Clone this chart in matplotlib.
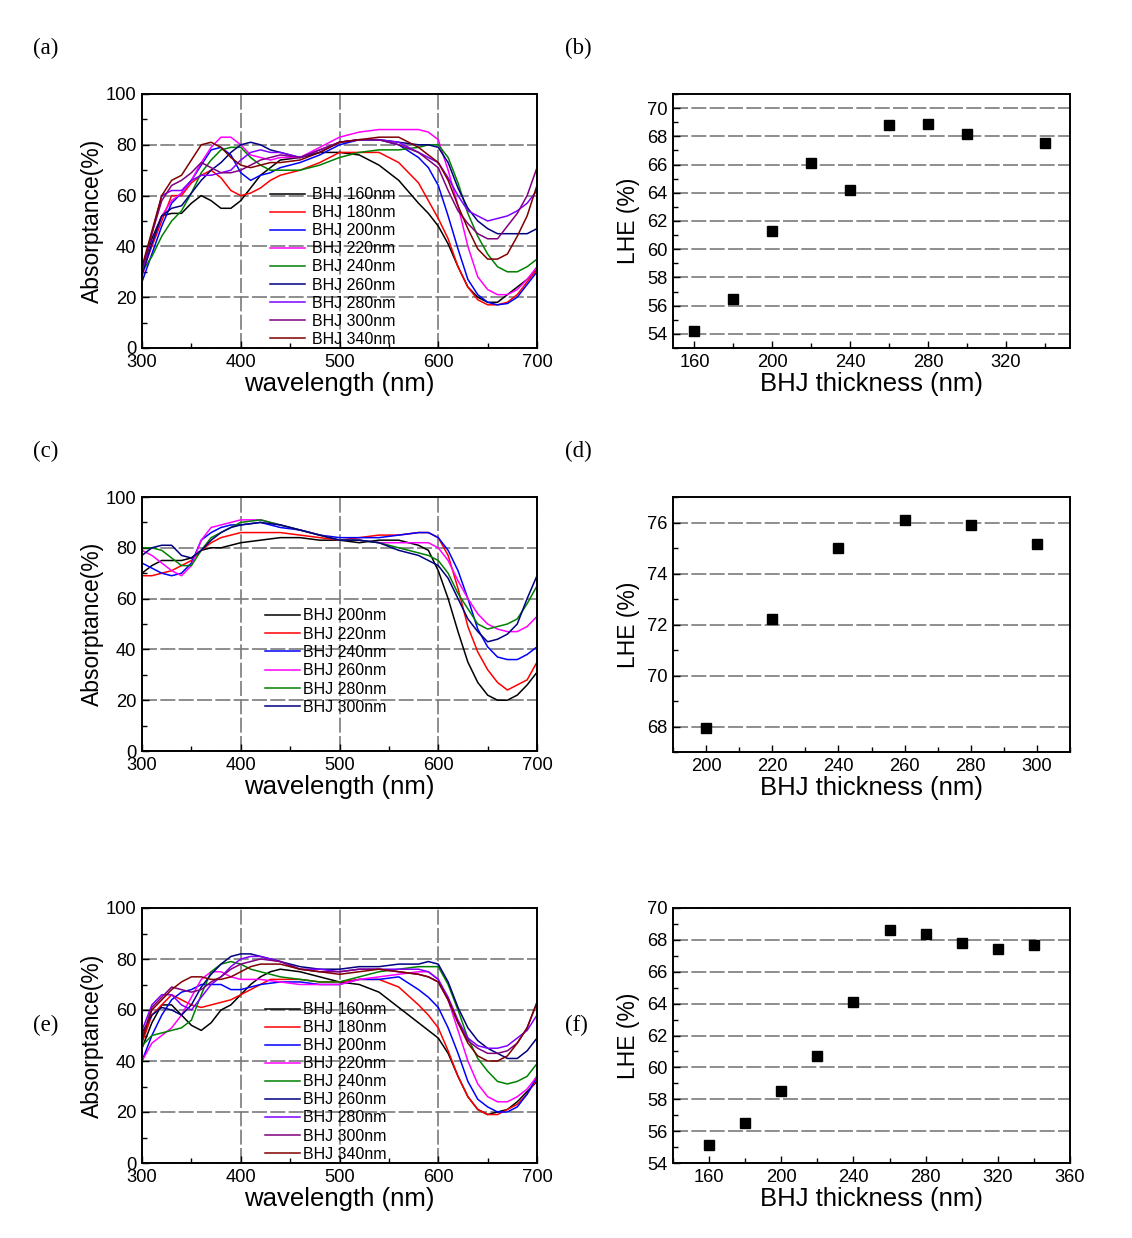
import matplotlib
matplotlib.use("Agg")
import matplotlib.pyplot as plt
from matplotlib.ticker import MultipleLocator

plt.rcParams['font.family'] = ['Liberation Sans', 'DejaVu Sans']

# ---------------- data ----------------
wavelength = [300, 310, 320, 330, 340, 350, 360, 370, 380, 390, 400, 410, 420, 430, 440,
              460, 480, 500, 520, 540, 560, 580, 590, 600,
              610, 620, 630, 640, 650, 660, 670, 680, 690, 700]

labels_a = ["BHJ 160nm", "BHJ 180nm", "BHJ 200nm", "BHJ 220nm", "BHJ 240nm",
            "BHJ 260nm", "BHJ 280nm", "BHJ 300nm", "BHJ 340nm"]
a_160 = [31, 43, 52, 53, 53, 57, 60, 58, 55, 55, 58, 63, 68, 71, 74, 75, 77, 77, 76, 72, 66, 57, 53, 48, 41, 32, 24, 20, 18, 18, 21, 24, 27, 31]
a_180 = [30, 40, 50, 60, 60, 65, 68, 70, 67, 62, 60, 61, 63, 66, 68, 70, 73, 77, 77, 77, 73, 65, 58, 51, 43, 32, 24, 19, 17, 17, 18, 21, 26, 31]
a_200 = [26, 37, 48, 57, 61, 66, 72, 78, 79, 76, 69, 66, 68, 69, 71, 73, 76, 80, 82, 82, 80, 75, 71, 64, 52, 39, 27, 21, 18, 17, 17.5, 20, 25, 30]
a_220 = [28, 41, 52, 58, 61, 66, 73, 79, 83, 83, 80, 76, 75, 74, 75, 75, 79, 83, 85, 86, 86, 86, 85, 82, 70, 56, 40, 28, 23, 21, 21, 23, 27, 32]
a_240 = [30, 36, 44, 50, 54, 61, 69, 74, 78, 79, 79, 75, 72, 70, 70, 70, 72, 75, 77, 78, 78, 79, 80, 80, 75, 65, 53, 44, 37, 32, 30, 30, 32, 35]
a_260 = [29, 41, 52, 55, 56, 61, 66, 70, 73, 77, 80, 81, 80, 78, 77, 75, 77, 81, 82, 82, 81, 80, 80, 79, 73, 63, 55, 50, 47, 45, 45, 45, 45, 47]
a_280 = [30, 45, 60, 62, 62, 66, 68, 68, 69, 70, 74, 77, 78, 77, 77, 75, 78, 81, 82, 82, 81, 77, 75, 73, 67, 60, 54, 52, 50, 51, 52, 54, 57, 62]
a_300 = [31, 45, 58, 64, 66, 69, 73, 71, 69, 69, 70, 72, 74, 75, 76, 75, 78, 81, 82, 82, 80, 77, 74, 71, 62, 54, 49, 45, 43, 43, 48, 53, 60, 71]
a_340 = [32, 46, 60, 66, 68, 74, 80, 81, 79, 75, 72, 71, 72, 73, 73, 74, 77, 81, 82, 83, 83, 79, 76, 73, 66, 56, 47, 39, 35, 35, 37, 44, 52, 64]

labels_c = ["BHJ 200nm", "BHJ 220nm", "BHJ 240nm", "BHJ 260nm", "BHJ 280nm", "BHJ 300nm"]
c_200 = [70, 73, 75, 75, 75, 76, 79, 80, 80, 81, 82, 82.5, 83, 83.5, 84, 84, 83, 83, 82, 83, 83, 81, 79, 71, 60, 47, 35, 27, 22, 20, 20, 22, 26, 31]
c_220 = [69, 69, 70, 71, 73, 75, 79, 82, 84, 85, 86, 86, 86, 86, 86, 85, 84, 83, 84, 85, 85, 86, 86, 84, 77, 64, 49, 39, 32, 27, 24, 26, 28, 35]
c_240 = [74, 72, 70, 69, 70, 74, 83, 86, 88, 89, 89, 89.5, 90, 89, 88, 87, 85, 84, 84, 84, 85, 86, 86, 84, 79, 71, 60, 48, 41, 37, 36, 36, 38, 41]
c_260 = [79, 77, 74, 71, 69, 73, 83, 88, 89, 90, 91, 91, 91, 90, 89, 87, 85, 83, 83, 82, 82, 82, 82, 80, 75, 67, 60, 54, 50, 48, 47, 47, 49, 53]
c_280 = [80, 80, 79, 76, 73, 73, 79, 84, 86, 88, 90, 90.5, 91, 90, 89, 87, 85, 83, 83, 82, 80, 78, 77, 75, 70, 62, 56, 50, 48, 49, 50, 52, 58, 65]
c_300 = [77, 80, 81, 81, 77, 76, 79, 83, 86, 88, 89, 89.5, 90, 89.5, 89, 87, 85, 83, 83, 82, 79, 77, 75, 73, 68, 60, 52, 47, 43, 44, 46, 50, 60, 69]

labels_e = labels_a
e_160 = [45, 55, 62, 62, 58, 54, 52, 55, 60, 62, 66, 70, 73, 75, 76, 75, 73, 71, 70, 67, 61, 55, 52, 49, 43, 34, 26, 21, 19, 20, 21, 24, 28, 32]
e_180 = [47, 58, 62, 66, 64, 62, 61, 62, 63, 64, 66, 68, 70, 72, 72, 72, 71, 71, 72, 72, 69, 62, 58, 53, 44, 34, 26, 21, 19, 19, 21, 23, 27, 33]
e_200 = [40, 50, 58, 64, 67, 68, 70, 70, 70, 68, 68, 69, 70, 70.5, 71, 71, 70, 70, 72, 72, 73, 68, 65, 61, 53, 43, 32, 25, 22, 20, 20, 22, 27, 34]
e_220 = [40, 47, 50, 53, 58, 65, 72, 75, 75, 73, 72, 72, 72, 71.5, 71, 70, 70, 70, 72, 73, 74, 75, 75, 72, 64, 52, 40, 31, 26, 24, 24, 26, 29, 34]
e_240 = [46, 50, 51, 52, 53, 56, 66, 75, 78, 79, 78, 76, 75, 74, 73, 72, 71, 71, 73, 75, 76, 77, 77, 77, 70, 60, 49, 41, 36, 32, 31, 32, 34, 39]
e_260 = [51, 58, 61, 60, 58, 62, 69, 74, 78, 81, 82, 82, 81, 80, 79, 77, 76, 76, 77, 77, 78, 78, 79, 78, 71, 61, 53, 48, 45, 43, 41, 41, 44, 49]
e_280 = [52, 62, 66, 66, 62, 60, 65, 70, 73, 77, 80, 81, 81, 80, 79, 76, 76, 75, 76, 76, 76, 76, 75, 72, 65, 56, 49, 46, 45, 45, 46, 49, 52, 58]
e_300 = [49, 61, 65, 69, 68, 67, 68, 71, 73, 76, 78, 79, 80, 79.5, 79, 76, 75, 75, 76, 76, 75, 74, 73, 71, 64, 55, 48, 45, 43, 43, 44, 47, 53, 63]
e_340 = [48, 60, 64, 68, 71, 73, 73, 72, 72, 73, 75, 77, 78, 78, 78, 76, 75, 74, 75, 76, 75, 74, 73, 71, 64, 55, 47, 42, 40, 40, 42, 47, 53, 63]

b_thick = [160, 180, 200, 220, 240, 260, 280, 300, 340]
b_lhe = [54.2, 56.5, 61.3, 66.1, 64.2, 68.8, 68.9, 68.2, 67.5]
d_thick = [200, 220, 240, 260, 280, 300]
d_lhe = [67.95, 72.2, 75.0, 76.1, 75.9, 75.15]
f_thick = [160, 180, 200, 220, 240, 260, 280, 300, 320, 340]
f_lhe = [55.1, 56.5, 58.5, 60.7, 64.1, 68.6, 68.4, 67.8, 67.4, 67.7]

colors9 = ['#000000', '#ff0000', '#0000ff', '#ff00ff', '#008000',
           '#000080', '#8000ff', '#800080', '#800000']

# ---------------- figure ----------------
W, H = 1132, 1238
fig = plt.figure(figsize=(W / 100, H / 100), dpi=100)


def ax_px(x0, y0, x1, y1):
    return fig.add_axes([x0 / W, 1 - y1 / H, (x1 - x0) / W, (y1 - y0) / H])


GRID = dict(color='#7a7a7a', linestyle=(0, (9, 2)), linewidth=1.2)


def style(ax):
    for s in ax.spines.values():
        s.set_linewidth(1.4)
    ax.tick_params(which='both', direction='in', labelsize=13.2, width=1.0)
    ax.tick_params(axis='x', which='both', pad=4)
    ax.tick_params(axis='y', which='both', pad=4)
    ax.tick_params(which='major', length=5)
    ax.tick_params(which='minor', length=3.5)
    ax.set_axisbelow(True)


def spectrum(ax, curves, labels, legpos, hpad, lspace):
    for y, lab, col in zip(curves, labels, colors9):
        ax.plot(wavelength, y, color=col, lw=1.1, label=lab)
    ax.set_xlim(300, 700)
    ax.set_ylim(0, 100)
    ax.xaxis.set_major_locator(MultipleLocator(100))
    ax.xaxis.set_minor_locator(MultipleLocator(50))
    ax.yaxis.set_major_locator(MultipleLocator(20))
    ax.yaxis.set_minor_locator(MultipleLocator(10))
    ax.grid(True, which='major', **GRID)
    style(ax)
    ax.set_xlabel('wavelength (nm)', fontsize=18.5, labelpad=1)
    ax.set_ylabel('Absorptance(%)', fontsize=16.5, labelpad=1)
    ax.legend(loc='center left', bbox_to_anchor=legpos, frameon=False,
              fontsize=11.5, labelspacing=lspace, handlelength=2.2,
              handletextpad=hpad, borderpad=0, borderaxespad=0)


def lhe(ax, x, y, xlim, xmaj, ylim, ymaj):
    ax.plot(x, y, 's', color='black', ms=7.5, ls='none')
    ax.set_xlim(*xlim)
    ax.set_ylim(*ylim)
    ax.xaxis.set_major_locator(MultipleLocator(xmaj))
    ax.xaxis.set_minor_locator(MultipleLocator(xmaj / 2))
    ax.yaxis.set_major_locator(MultipleLocator(ymaj))
    ax.yaxis.set_minor_locator(MultipleLocator(ymaj / 2))
    ax.yaxis.grid(True, which='major', **GRID)
    style(ax)
    ax.set_xlabel('BHJ thickness (nm)', fontsize=18.5, labelpad=1)
    ax.set_ylabel('LHE (%)', fontsize=16.5, labelpad=5)


ax_a = ax_px(142, 94, 537, 348)
spectrum(ax_a, [a_160, a_180, a_200, a_220, a_240, a_260, a_280, a_300, a_340],
         labels_a, (0.324, 0.319), 0.4, 0.19)

ax_b = ax_px(673, 94, 1070, 348)
lhe(ax_b, b_thick, b_lhe, (149, 353), 40, (53, 71), 2)

ax_c = ax_px(142, 497, 537, 751)
spectrum(ax_c, [c_200, c_220, c_240, c_260, c_280, c_300], labels_c, (0.311, 0.352), 0.2, 0.21)

ax_d = ax_px(673, 497, 1070, 752)
lhe(ax_d, d_thick, d_lhe, (190, 310), 20, (67, 77), 2)

ax_e = ax_px(142, 908, 537, 1163)
spectrum(ax_e, [e_160, e_180, e_200, e_220, e_240, e_260, e_280, e_300, e_340],
         labels_e, (0.311, 0.318), 0.2, 0.19)

ax_f = ax_px(673, 908, 1070, 1163)
lhe(ax_f, f_thick, f_lhe, (140, 360), 40, (54, 70), 2)

for lab, x, y in [('(a)', 33, 48), ('(b)', 565, 48), ('(c)', 33, 451),
                  ('(d)', 565, 451), ('(e)', 33, 1025), ('(f)', 565, 1025)]:
    fig.text(x / W, 1 - y / H, lab, fontsize=16.5, family=['Liberation Serif', 'DejaVu Serif'],
             ha='left', va='center')

fig.savefig('out.png', dpi=100)
